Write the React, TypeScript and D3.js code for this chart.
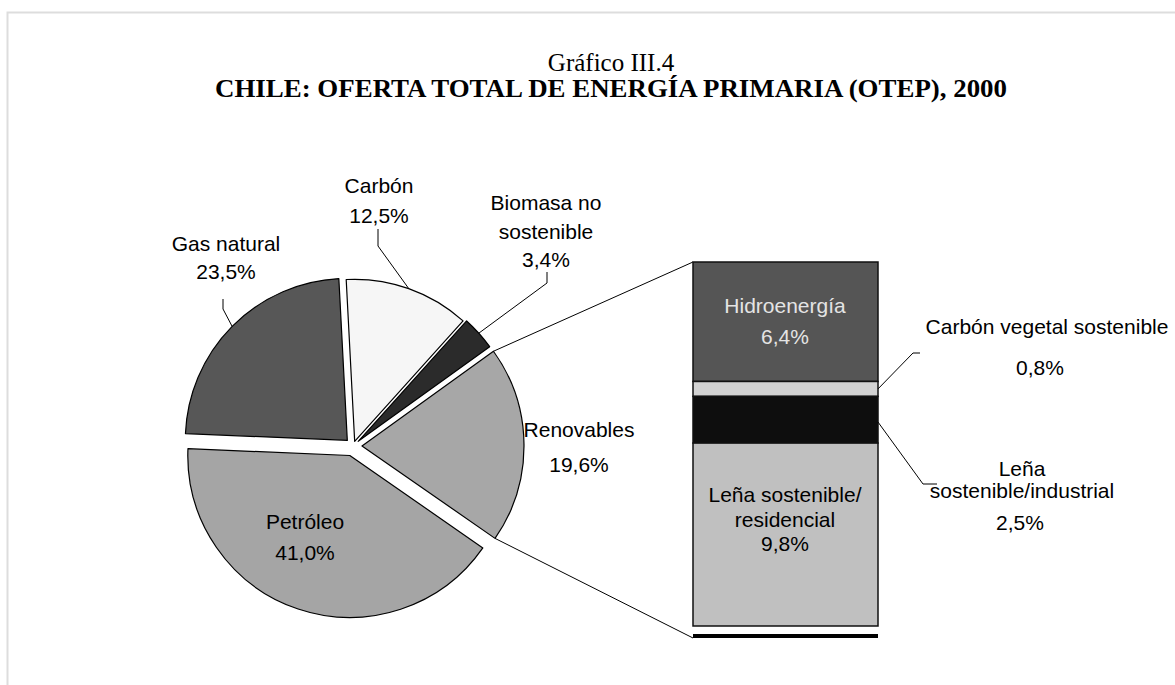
import React from 'react';
import * as d3 from 'd3';

// ---- Data ----
const pieCategories = ['Carbón', 'Biomasa no sostenible', 'Renovables', 'Petróleo', 'Gas natural'];
const pieValues = [12.5, 3.4, 19.6, 41.0, 23.5];
const pieLabelLines = [
  ['Carbón', '12,5%'],
  ['Biomasa no', 'sostenible', '3,4%'],
  ['Renovables', '19,6%'],
  ['Petróleo', '41,0%'],
  ['Gas natural', '23,5%'],
];
const barCategories = ['Hidroenergía', 'Carbón vegetal sostenible', 'Leña sostenible/industrial', 'Leña sostenible/residencial'];
const barValues = [6.4, 0.8, 2.5, 9.8];
const barLabelLines = [
  ['Hidroenergía', '6,4%'],
  ['Carbón vegetal sostenible', '0,8%'],
  ['Leña', 'sostenible/industrial', '2,5%'],
  ['Leña sostenible/', 'residencial', '9,8%'],
];
const titleLine1 = 'Gráfico III.4';
const titleLine2 = 'CHILE: OFERTA TOTAL DE ENERGÍA PRIMARIA (OTEP), 2000';

// ---- Styles / layout ----
const W = 1175, H = 685;
const cx = 353, cy = 446, R = 162;
const startDeg = -3;
const pieFill = ['#f6f6f6', '#2b2b2b', '#a7a7a7', '#a5a5a5', '#575757'];
const explode = [5, 7, 9, 10, 8];
// label layout: [x, y first baseline, line gap]
const pieLabelPos = [
  [379, 193, 30],
  [546, 210, 28.5],
  [579, 437, 35],
  [305, 529, 31],
  [226, 251, 28],
];
// leader: tick x, yTop, yBottom (null = none)
const pieLeader: (null | [number, number, number])[] = [
  [378, 229, 246],
  [547, 272, 283],
  null,
  null,
  [223, 299, 309],
];
const barX0 = 693, barX1 = 878, barTop = 262, barBottom = 626;
const barFill = ['#555555', '#d2d2d2', '#0e0e0e', '#c0c0c0'];
const font = 'Liberation Sans, Arial, sans-serif';
const serif = 'Liberation Serif, Times New Roman, serif';
const fs = 21;

export default function App() {
  const pie = d3.pie<number>().sort(null).value((d) => d)
    .startAngle((startDeg * Math.PI) / 180)
    .endAngle(((startDeg + 360) * Math.PI) / 180);
  const arcs = pie(pieValues);
  const arcGen = d3.arc<d3.PieArcDatum<number>>().innerRadius(0).outerRadius(R);

  const offs = arcs.map((a, i) => {
    const m = (a.startAngle + a.endAngle) / 2;
    return [explode[i] * Math.sin(m), -explode[i] * Math.cos(m)];
  });
  const onArc = (i: number, ang: number) => [
    cx + offs[i][0] + R * Math.sin(ang),
    cy + offs[i][1] - R * Math.cos(ang),
  ];

  const total = d3.sum(barValues);
  const y = d3.scaleLinear().domain([0, total]).range([barTop, barBottom]);
  const stackStarts = barValues.map((_, i) => d3.sum(barValues.slice(0, i)));

  const renIdx = 2;
  const renA = arcs[renIdx];
  const pUp = onArc(renIdx, renA.startAngle);
  const pDn = onArc(renIdx, renA.endAngle);
  const bottomRuleY = y(total) + 10;

  const m1 = y(stackStarts[1] + barValues[1] / 2);
  const m2 = y(stackStarts[2] + barValues[2] * 0.55);

  return (
    <svg width={W} height={H} style={{ position: 'absolute', left: 0, top: 0, background: '#fff' }}>
      <rect x={0} y={0} width={W} height={H} fill="#fff" />
      {/* frame */}
      <path d={`M7.5,${H} V12.5 H${W}`} fill="none" stroke="#dddddd" strokeWidth={2} />
      {/* title */}
      <text x={611} y={71} textAnchor="middle" fontFamily={serif} fontSize={25}>{titleLine1}</text>
      <text x={611} y={97} textAnchor="middle" fontFamily={serif} fontSize={26} fontWeight="bold"
        textLength={792} lengthAdjust="spacingAndGlyphs">{titleLine2}</text>

      {/* pie */}
      {arcs.map((a, i) => (
        <path key={pieCategories[i]} d={arcGen(a) || ''}
          transform={`translate(${cx + offs[i][0]},${cy + offs[i][1]})`}
          fill={pieFill[i]} stroke="#000" strokeWidth={1.2} strokeLinejoin="round" />
      ))}
      {/* pie leaders */}
      {arcs.map((a, i) => {
        const L = pieLeader[i];
        if (!L) return null;
        const m = (a.startAngle + a.endAngle) / 2;
        const p = onArc(i, m);
        return <polyline key={'l' + i} points={`${p[0]},${p[1]} ${L[0]},${L[2]} ${L[0]},${L[1]}`}
          fill="none" stroke="#000" strokeWidth={1} />;
      })}
      {/* pie labels */}
      {pieLabelLines.map((lines, i) => (
        <text key={'t' + i} fontFamily={font} fontSize={fs} textAnchor="middle" fill="#000">
          {lines.map((s, j) => (
            <tspan key={j} x={pieLabelPos[i][0]} y={pieLabelPos[i][1] + j * pieLabelPos[i][2]}>{s}</tspan>
          ))}
        </text>
      ))}

      {/* connectors */}
      <line x1={pUp[0]} y1={pUp[1]} x2={barX0} y2={barTop} stroke="#000" strokeWidth={1} />
      <line x1={pDn[0]} y1={pDn[1]} x2={barX0} y2={bottomRuleY + 2} stroke="#000" strokeWidth={1} />

      {/* bar */}
      {barValues.map((v, i) => (
        <rect key={barCategories[i]} x={barX0} width={barX1 - barX0}
          y={y(stackStarts[i])} height={y(stackStarts[i] + v) - y(stackStarts[i])}
          fill={barFill[i]} stroke="#111" strokeWidth={1.5} />
      ))}
      <line x1={barX0} x2={barX1} y1={bottomRuleY} y2={bottomRuleY} stroke="#000" strokeWidth={4} />

      {/* bar leaders */}
      <g fill="none" stroke="#000" strokeWidth={1}>
        <polyline points={`${barX1},${m1} ${913},${353} ${920},${353}`} />
        <polyline points={`${barX1},${m2} ${923},${484} ${937},${484}`} />
      </g>

      {/* bar labels */}
      <text fontFamily={font} fontSize={fs} textAnchor="middle" fill="#e4e4e4">
        <tspan x={785} y={313}>{barLabelLines[0][0]}</tspan>
        <tspan x={785} y={344}>{barLabelLines[0][1]}</tspan>
      </text>
      <text fontFamily={font} fontSize={fs} textAnchor="middle" fill="#000">
        <tspan x={1047} y={334}>{barLabelLines[1][0]}</tspan>
        <tspan x={1040} y={375}>{barLabelLines[1][1]}</tspan>
      </text>
      <text fontFamily={font} fontSize={fs} textAnchor="middle" fill="#000">
        <tspan x={1022} y={476}>{barLabelLines[2][0]}</tspan>
        <tspan x={1022} y={498}>{barLabelLines[2][1]}</tspan>
        <tspan x={1020} y={530}>{barLabelLines[2][2]}</tspan>
      </text>
      <text fontFamily={font} fontSize={fs} textAnchor="middle" fill="#000">
        <tspan x={785} y={502}>{barLabelLines[3][0]}</tspan>
        <tspan x={785} y={527}>{barLabelLines[3][1]}</tspan>
        <tspan x={785} y={551}>{barLabelLines[3][2]}</tspan>
      </text>
    </svg>
  );
}
